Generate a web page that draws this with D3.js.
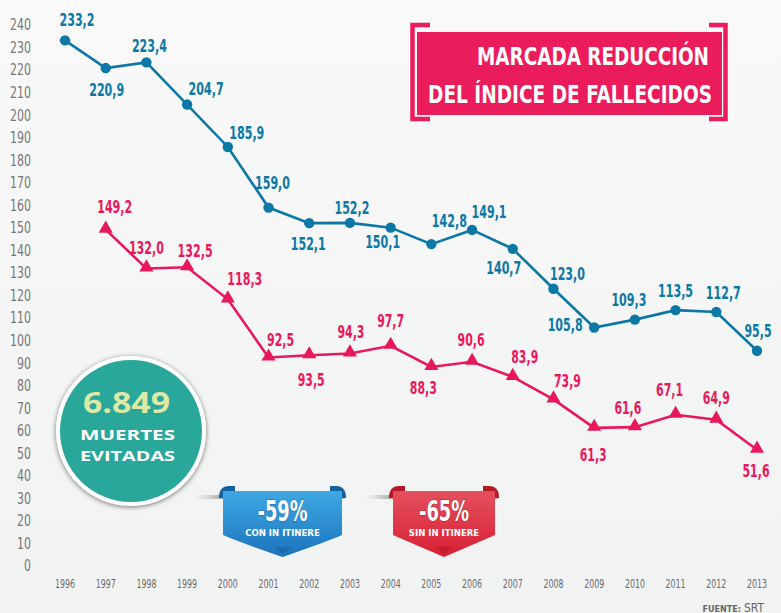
<!DOCTYPE html>
<html><head><meta charset="utf-8">
<script src="https://cdn.jsdelivr.net/npm/d3@7"></script>
<style>
html,body{margin:0;padding:0;background:#f4f5f5;}
svg{display:block;}
</style></head>
<body>
<svg id="c" width="781" height="613"></svg>
<script>
// ---- data ----
const years = [1996,1997,1998,1999,2000,2001,2002,2003,2004,2005,2006,2007,2008,2009,2010,2011,2012,2013];
const conItinere = [233.2,220.9,223.4,204.7,185.9,159.0,152.1,152.2,150.1,142.8,149.1,140.7,123.0,105.8,109.3,113.5,112.7,95.5];
const sinItinereYears = [1997,1998,1999,2000,2001,2002,2003,2004,2005,2006,2007,2008,2009,2010,2011,2012,2013];
const sinItinere = [149.2,132.0,132.5,118.3,92.5,93.5,94.3,97.7,88.3,90.6,83.9,73.9,61.3,61.6,67.1,64.9,51.6];
const yTicks = [0,10,20,30,40,50,60,70,80,90,100,110,120,130,140,150,160,170,180,190,200,210,220,230,240];
const titleLines = ["MARCADA REDUCCIÓN","DEL ÍNDICE DE FALLECIDOS"];
const totalAvoided = "6.849";
const blueBadge = ["-59%","CON IN ITINERE"];
const redBadge = ["-65%","SIN IN ITINERE"];

// label offsets (layout only)
const blueOff = [[12,-20],[1,22],[3,-17],[19,-16],[19,-14],[4,-25],[-1,21],[2,-15],[-8,14],[18,-23],[17,-18],[-9,19],[14,-15],[-29,-3],[-6,-20],[0,-19],[7,-19],[1,-20]];
const redOff = [[9,-23],[0,-21],[8,-16],[17,-20],[12,-18],[2,25],[1,-22],[0,-25],[-8,21],[-1,-22],[12,-20],[14,-19],[-1,27],[-7,-19],[-6,-25],[0,-22],[-1,21]];

const fmt = v => v.toFixed(1).replace(".", ",");
const labW = s => (s.length - 1) * 8 + 3;
const BLUE = "#0b78a5", PINK = "#e9185b";
const COND = "'Liberation Sans Narrow','DejaVu Sans Condensed','Roboto Condensed',sans-serif";

const svg = d3.select("#c");
const defs = svg.append("defs");

// background
const bg = defs.append("linearGradient").attr("id","bg").attr("x1",0).attr("y1",0).attr("x2",0).attr("y2",1);
bg.append("stop").attr("offset",0).attr("stop-color","#f9f9f9");
bg.append("stop").attr("offset",1).attr("stop-color","#f1f2f2");
svg.append("rect").attr("width",781).attr("height",613).attr("fill","url(#bg)");

const x = d3.scalePoint().domain(years).range([65,757]);
const y = d3.scaleLinear().domain([0,240]).range([566,25]);

// y axis labels
svg.append("g").selectAll("text").data(yTicks).join("text")
  .attr("x",31).attr("y",d=>y(d)).attr("dy","0.36em")
  .attr("text-anchor","end").attr("font-family",COND).attr("font-size",15)
  .attr("textLength",d=>String(d).length*7).attr("lengthAdjust","spacingAndGlyphs")
  .attr("fill","#777").text(d=>d);

// x axis labels
svg.append("g").selectAll("text").data(years).join("text")
  .attr("x",d=>x(d)).attr("y",588).attr("text-anchor","middle")
  .attr("font-family",COND).attr("font-size",12).attr("textLength",20).attr("lengthAdjust","spacingAndGlyphs")
  .attr("fill","#6a6a6a").text(d=>d);

// source
const src = svg.append("text").attr("x",764).attr("y",612).attr("text-anchor","end")
  .attr("font-family",COND).attr("font-size",12).attr("font-weight","bold").attr("fill","#666");
src.append("tspan").attr("font-size",9).text("FUENTE: ");
src.append("tspan").attr("font-weight","normal").text("SRT");

// title box
const tb = svg.append("g");
tb.append("rect").attr("x",417).attr("y",32).attr("width",305).attr("height",83).attr("fill","#ea1c5b");
const brk = (pts)=>tb.append("path").attr("d",d3.line()(pts)).attr("fill","none").attr("stroke","#ea1c5b").attr("stroke-width",4.5);
brk([[430,25],[412.5,25],[412.5,119],[430,119]]);
brk([[709,25],[725.5,25],[725.5,119],[709,119]]);
tb.append("text").attr("x",477).attr("y",65).attr("textLength",232).attr("lengthAdjust","spacingAndGlyphs")
  .attr("font-family",COND).attr("font-weight","bold").attr("font-size",25).attr("fill","#fff").text(titleLines[0]);
tb.append("text").attr("x",428).attr("y",103).attr("textLength",284).attr("lengthAdjust","spacingAndGlyphs")
  .attr("font-family",COND).attr("font-weight","bold").attr("font-size",25).attr("fill","#fff").text(titleLines[1]);

// circle badge
const sh = defs.append("filter").attr("id","sh").attr("x","-20%").attr("y","-20%").attr("width","140%").attr("height","140%");
sh.append("feDropShadow").attr("dx",0).attr("dy",1).attr("stdDeviation",2.5).attr("flood-color","#000").attr("flood-opacity",0.55);
const cb = svg.append("g");
cb.append("circle").attr("cx",131).attr("cy",431).attr("r",75).attr("fill","#fff").attr("filter","url(#sh)");
cb.append("circle").attr("cx",131).attr("cy",431).attr("r",71).attr("fill","#2aa79b");
cb.append("text").attr("x",83).attr("y",413).attr("textLength",87).attr("lengthAdjust","spacingAndGlyphs")
  .attr("font-family","'Open Sans','DejaVu Sans',sans-serif").attr("font-weight","bold").attr("font-size",29).attr("fill","#dfe9a6").text(totalAvoided);
cb.append("text").attr("x",80).attr("y",440).attr("textLength",95).attr("lengthAdjust","spacingAndGlyphs")
  .attr("font-family","'Open Sans','DejaVu Sans',sans-serif").attr("font-weight","bold").attr("font-size",15).attr("fill","#fff").text("MUERTES");
cb.append("text").attr("x",80).attr("y",461).attr("textLength",95).attr("lengthAdjust","spacingAndGlyphs")
  .attr("font-family","'Open Sans','DejaVu Sans',sans-serif").attr("font-weight","bold").attr("font-size",15).attr("fill","#fff").text("EVITADAS");

// ribbons
function ribbon(x0, x1, top, tipY, c1, c2, dark, texts, strokeCol, gid){
  const g = svg.append("g");
  const shg = defs.append("linearGradient").attr("id",gid+"s").attr("x1",0).attr("x2",1);
  shg.append("stop").attr("offset",0).attr("stop-color","#bbb").attr("stop-opacity",0);
  shg.append("stop").attr("offset",1).attr("stop-color","#999").attr("stop-opacity",0.8);
  g.append("rect").attr("x",x0-24).attr("y",top+9).attr("width",26).attr("height",4).attr("fill","url(#"+gid+"s)");
  const gr = defs.append("linearGradient").attr("id",gid).attr("x1",0).attr("y1",0).attr("x2",0).attr("y2",1);
  gr.append("stop").attr("offset",0).attr("stop-color",c1);
  gr.append("stop").attr("offset",1).attr("stop-color",c2);
  const mx = (x0+x1)/2;
  g.append("path").attr("d",`M${x0},${top+12} Q${x0},${top} ${x0+10},${top} L${x0+16},${top} L${x0+16},${top+14} Z`).attr("fill",dark);
  g.append("path").attr("d",`M${x1},${top+12} Q${x1},${top} ${x1-10},${top} L${x1-16},${top} L${x1-16},${top+14} Z`).attr("fill",dark);
  g.append("path").attr("d",`M${x0+4},${top+5} L${x1-4},${top+5} L${x1-4},${tipY-22} Q${x1-20},${tipY-15} ${mx},${tipY} Q${x0+20},${tipY-15} ${x0+4},${tipY-22} Z`)
    .attr("fill","url(#"+gid+")");
  g.append("path").attr("d",`M${mx-9},${tipY-10} L${mx+9},${tipY-10} L${mx},${tipY-3} Z`).attr("fill",dark).attr("opacity",0.6);
  g.append("text").attr("x",mx).attr("y",top+35).attr("text-anchor","middle")
    .attr("textLength",texts[0].length*12.5).attr("lengthAdjust","spacingAndGlyphs")
    .attr("font-family",COND).attr("font-weight","bold").attr("font-size",28)
    .attr("fill","#fff").attr("stroke",strokeCol).attr("stroke-width",1).attr("paint-order","stroke").text(texts[0]);
  g.append("text").attr("x",mx).attr("y",top+50).attr("text-anchor","middle")
    .attr("font-family",COND).attr("font-weight","bold").attr("font-size",9.5)
    .attr("fill","#fff").text(texts[1]);
}
ribbon(219,346,486,557,"#3fa9e3","#1c73bd","#15609f",blueBadge,"#1a6aa8","gb");
ribbon(389,499,486,557,"#e4505f","#d81f33","#b71828",redBadge,"#b3142a","gr");

// series lines
const line = d3.line().x(d=>x(d[0])).y(d=>y(d[1]));
const blueData = years.map((yr,i)=>[yr,conItinere[i]]);
const redData = sinItinereYears.map((yr,i)=>[yr,sinItinere[i]]);

svg.append("path").datum(blueData).attr("d",line).attr("fill","none").attr("stroke",BLUE).attr("stroke-width",2.6);
svg.append("g").selectAll("circle").data(blueData).join("circle")
  .attr("cx",d=>x(d[0])).attr("cy",d=>y(d[1])).attr("r",5.2).attr("fill",BLUE);

svg.append("path").datum(redData).attr("d",line).attr("fill","none").attr("stroke",PINK).attr("stroke-width",2.6);
const tri = d3.symbol().type(d3.symbolTriangle).size(85);
svg.append("g").selectAll("path").data(redData).join("path")
  .attr("d",tri).attr("transform",d=>`translate(${x(d[0])},${y(d[1])-1})`).attr("fill",PINK);

// value labels
function labels(data, off, col){
  svg.append("g").selectAll("text").data(data).join("text")
    .attr("x",(d,i)=>x(d[0])+off[i][0]).attr("y",(d,i)=>y(d[1])+off[i][1]).attr("dy","0.36em")
    .attr("text-anchor","middle").attr("font-family",COND).attr("font-weight","bold").attr("font-size",17)
    .attr("textLength",d=>labW(fmt(d[1]))).attr("lengthAdjust","spacingAndGlyphs")
    .attr("fill",col).text(d=>fmt(d[1]));
}
labels(blueData, blueOff, BLUE);
labels(redData, redOff, PINK);
</script>
</body></html>
